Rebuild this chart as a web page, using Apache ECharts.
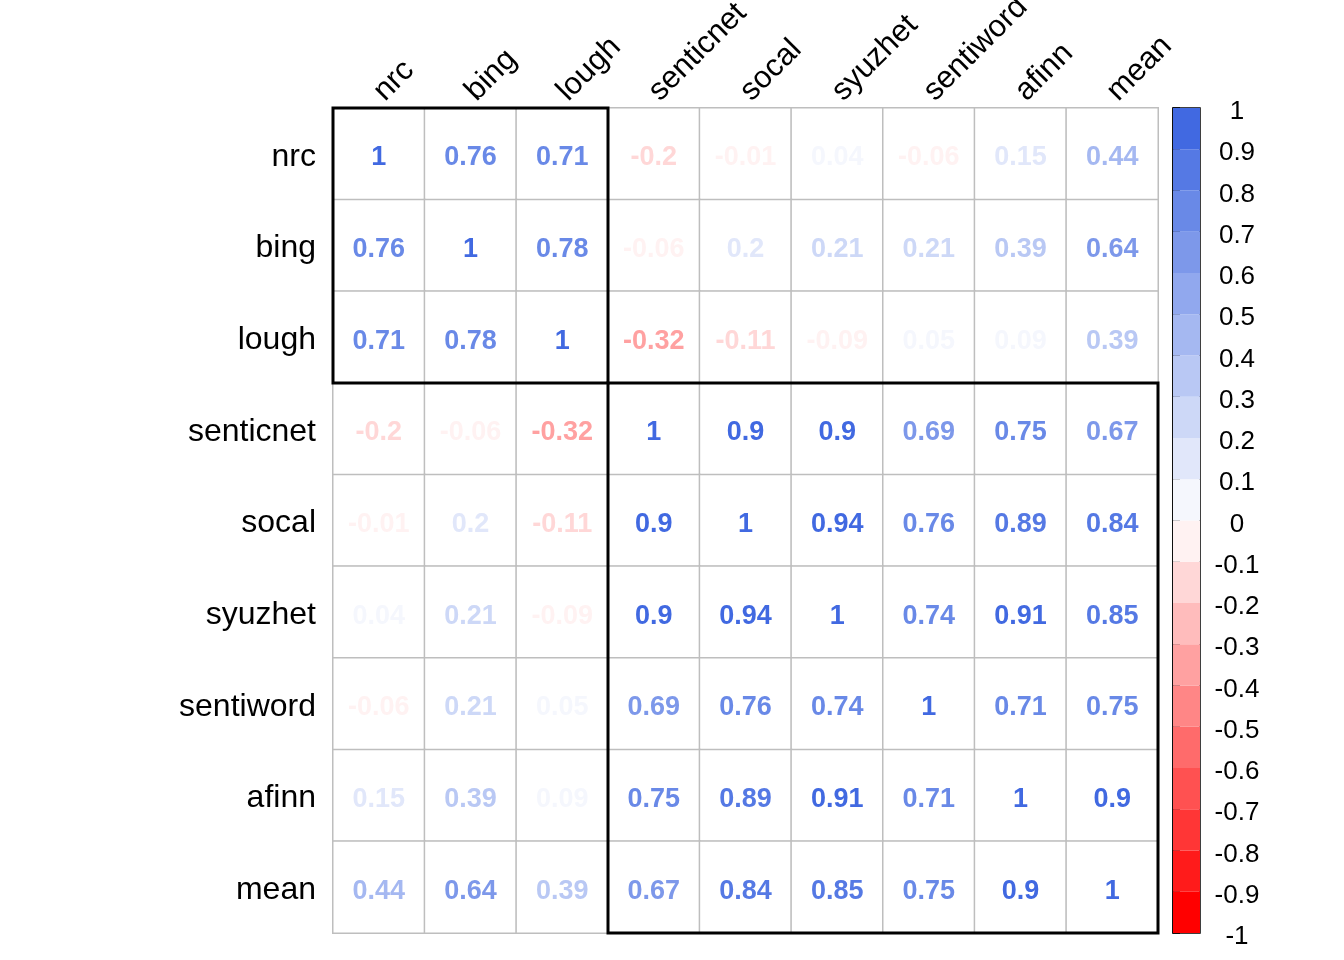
<!DOCTYPE html>
<html><head><meta charset="utf-8">
<script src="https://cdn.jsdelivr.net/npm/echarts@6/dist/echarts.min.js"></script>
<style>html,body{margin:0;padding:0;background:#fff}#c{width:1344px;height:960px}</style>
</head><body><div id="c"></div>
<script>
// ---- data ----
const varNames = ['nrc','bing','lough','senticnet','socal','syuzhet','sentiword','afinn','mean'];
const nrc       = [1, 0.76, 0.71, -0.2, -0.01, 0.04, -0.06, 0.15, 0.44];
const bing      = [0.76, 1, 0.78, -0.06, 0.199, 0.21, 0.21, 0.39, 0.64];
const lough     = [0.71, 0.78, 1, -0.32, -0.11, -0.09, 0.05, 0.09, 0.39];
const senticnet = [-0.2, -0.06, -0.32, 1, 0.9, 0.9, 0.69, 0.75, 0.67];
const socal     = [-0.01, 0.199, -0.11, 0.9, 1, 0.94, 0.76, 0.89, 0.84];
const syuzhet   = [0.04, 0.21, -0.09, 0.9, 0.94, 1, 0.74, 0.91, 0.85];
const sentiword = [-0.06, 0.21, 0.05, 0.69, 0.76, 0.74, 1, 0.71, 0.75];
const afinn     = [0.15, 0.39, 0.09, 0.75, 0.89, 0.91, 0.71, 1, 0.9];
const mean      = [0.44, 0.64, 0.39, 0.67, 0.84, 0.85, 0.75, 0.9, 1];
const corrRows = [nrc, bing, lough, senticnet, socal, syuzhet, sentiword, afinn, mean];
const clusters = [['nrc','lough'], ['senticnet','mean']];
const legendBreaks = [-1,-0.9,-0.8,-0.7,-0.6,-0.5,-0.4,-0.3,-0.2,-0.1,0,0.1,0.2,0.3,0.4,0.5,0.6,0.7,0.8,0.9,1];

// ---- colours: ramp red -> white -> royalblue, 20 bins ----
const NB = legendBreaks.length - 1;
const stops = [[255,0,0],[255,255,255],[65,105,225]];
const palette = [];
for (let i = 0; i < NB; i++) {
  const t = i / (NB - 1);
  const seg = t <= 0.5 ? 0 : 1;
  const f = seg === 0 ? t / 0.5 : (t - 0.5) / 0.5;
  const c = [0,1,2].map(k => Math.round(stops[seg][k] + (stops[seg+1][k] - stops[seg][k]) * f));
  palette.push('rgb(' + c.join(',') + ')');
}
function colorFor(v) {
  let idx = Math.floor((v + 1) / 2 * NB + 1e-9);
  if (idx < 0) idx = 0; if (idx > NB - 1) idx = NB - 1;
  return palette[idx];
}
function fmt(v) { return String(Math.round(v * 100) / 100); }

const heatData = [];
corrRows.forEach((row, r) => row.forEach((v, c) => {
  heatData.push({ value: [c, r, v], label: { color: colorFor(v) } });
}));
const legendData = [];
for (let i = 0; i < NB; i++) legendData.push([legendBreaks[i], legendBreaks[i+1], i]);

const FONT = 'Liberation Sans, Arial, sans-serif';
const chart = echarts.init(document.getElementById('c'), null, { renderer: 'canvas' });
chart.setOption({
  animation: false,
  backgroundColor: '#fff',
  grid: [
    { left: 333, top: 108, width: 825, height: 825, outerBoundsMode: 'none', containLabel: false },
    { left: 1173, top: 108, width: 27, height: 825, outerBoundsMode: 'none', containLabel: false,
      show: true, borderColor: '#000', borderWidth: 1.5, backgroundColor: 'transparent' }
  ],
  xAxis: [
    { type: 'category', gridIndex: 0, data: varNames, position: 'top',
      axisLine: { show: false }, axisTick: { show: false }, splitLine: { show: false },
      axisLabel: { rotate: -45, margin: 12, align: 'left', verticalAlign: 'middle', fontSize: 31, color: '#000', fontFamily: FONT, interval: 0 } },
    { type: 'value', gridIndex: 1, min: 0, max: 1, show: false }
  ],
  yAxis: [
    { type: 'category', gridIndex: 0, data: varNames, inverse: true,
      axisLine: { show: false }, axisTick: { show: false }, splitLine: { show: false },
      axisLabel: { margin: 17, color: '#000', interval: 0,
        formatter: v => '{r|' + v + '}',
        rich: { r: { fontSize: 32, fontFamily: FONT, color: '#000', padding: [6, 0, 0, 0] } } } },
    { type: 'value', gridIndex: 1, min: -1, max: 1, interval: 0.1, position: 'right',
      axisLine: { show: true, lineStyle: { color: '#000', width: 1.5 } },
      axisTick: { show: true, length: 7, lineStyle: { color: '#000', width: 1.5 } },
      splitLine: { show: false },
      axisLabel: { margin: 37, align: 'center', color: '#000',
        formatter: v => '{t|' + v + '}',
        rich: { t: { fontSize: 26, fontFamily: FONT, color: '#000', padding: [8, 0, 0, 0] } } } }
  ],
  series: [
    { type: 'heatmap', xAxisIndex: 0, yAxisIndex: 0, data: heatData,
      itemStyle: { color: '#fff', borderColor: '#BEBEBE', borderWidth: 1.5 },
      label: { show: true, fontSize: 27, fontWeight: 'bold', fontFamily: FONT, offset: [0, 4], formatter: p => fmt(p.value[2]) },
      emphasis: { disabled: true } },
    { type: 'custom', xAxisIndex: 0, yAxisIndex: 0, z: 10, silent: true,
      data: clusters.map(cl => [varNames.indexOf(cl[0]), varNames.indexOf(cl[1])]),
      renderItem: (params, api) => {
        const a = api.value(0), b = api.value(1);
        const p1 = api.coord([a, a]), p2 = api.coord([b, b]);
        const s = api.size([1, 1]);
        const x0 = Math.min(p1[0], p2[0]) - s[0] / 2, x1 = Math.max(p1[0], p2[0]) + s[0] / 2;
        const y0 = Math.min(p1[1], p2[1]) - s[1] / 2, y1 = Math.max(p1[1], p2[1]) + s[1] / 2;
        return { type: 'rect', shape: { x: x0, y: y0, width: x1 - x0, height: y1 - y0 },
                 style: { fill: 'none', stroke: '#000', lineWidth: 3 } };
      } },
    { type: 'custom', xAxisIndex: 1, yAxisIndex: 1, silent: true, data: legendData,
      renderItem: (params, api) => {
        const lo = api.value(0), hi = api.value(1);
        const pTop = api.coord([0, hi]), pBot = api.coord([1, lo]);
        return { type: 'rect', shape: { x: pTop[0], y: pTop[1], width: pBot[0] - pTop[0], height: pBot[1] - pTop[1] },
                 style: { fill: palette[api.value(2)], stroke: null } };
      } }
  ]
});
</script></body></html>
